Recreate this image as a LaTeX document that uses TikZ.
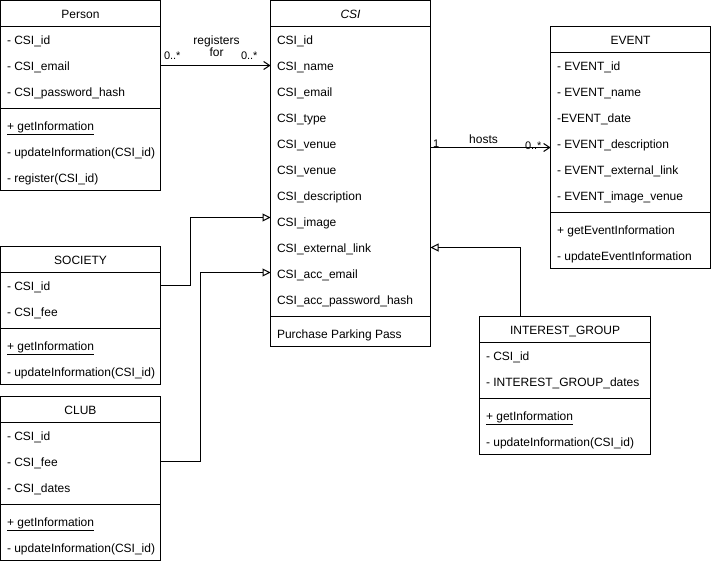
\documentclass[tikz,border=0pt]{standalone}
\usepackage{fontspec}
\setmainfont{Liberation Sans}
\usetikzlibrary{arrows.meta}

\begin{document}
\begin{tikzpicture}[x=1pt, y=-1pt, line width=1pt,
  classbox/.style={draw, anchor=north west, inner sep=0pt, outer sep=0pt},
  title/.style={font=\fontsize{12}{14}\selectfont, inner sep=0pt, text height=12pt, text depth=2pt, anchor=center},
  member/.style={font=\fontsize{12}{14}\selectfont, inner sep=0pt, text height=12pt, text depth=2pt, anchor=west},
  rellabel/.style={font=\fontsize{12}{14}\selectfont, inner sep=0pt, anchor=base},
  mult/.style={font=\fontsize{11}{13}\selectfont, inner sep=0pt, anchor=base west},
  assoc/.style={-{Straight Barb[length=6pt,width=8pt]}},
  inherit/.style={-{Triangle[open,length=8pt,width=8pt]}}
]
\useasboundingbox (0,0) rectangle (711,564);

\begin{scope}[shift={(0.5,0.5)}]

% ---------- Person ----------
\node[classbox, minimum width=160pt, minimum height=190pt] (person) at (0,0) {};
\node[title] (person-t) at (80,13) {Person};
\draw (0,26) -- (160,26);
\node[member] (p-id)    at (6,39) {- CSI\_id};
\node[member] (p-email) at (6,65) {- CSI\_email};
\node[member] (p-pw)    at (6,91) {- CSI\_password\_hash};
\draw (0,108) -- (160,108);
\node[member] (p-get)   at (6,125) {\underline{+ getInformation}};
\node[member] (p-upd)   at (6,151) {- updateInformation(CSI\_id)};
\node[member] (p-reg)   at (6,177) {- register(CSI\_id)};

% ---------- CSI (abstract) ----------
\node[classbox, minimum width=160pt, minimum height=346pt] (csi) at (270,0) {};
\node[title] (csi-t) at (350,13) {\itshape CSI};
\draw (270,26) -- (430,26);
\node[member] (csi-id)     at (276,39)  {CSI\_id};
\node[member] (csi-name)   at (276,65)  {CSI\_name};
\node[member] (csi-email)  at (276,91)  {CSI\_email};
\node[member] (csi-type)   at (276,117) {CSI\_type};
\node[member] (csi-venue1) at (276,143) {CSI\_venue};
\node[member] (csi-venue2) at (276,169) {CSI\_venue};
\node[member] (csi-desc)   at (276,195) {CSI\_description};
\node[member] (csi-image)  at (276,221) {CSI\_image};
\node[member] (csi-link)   at (276,247) {CSI\_external\_link};
\node[member] (csi-accm)   at (276,273) {CSI\_acc\_email};
\node[member] (csi-accpw)  at (276,299) {CSI\_acc\_password\_hash};
\draw (270,316) -- (430,316);
\node[member] (csi-park)   at (276,333) {Purchase Parking Pass};

% ---------- EVENT ----------
\node[classbox, minimum width=160pt, minimum height=242pt] (event) at (550,26) {};
\node[title] (event-t) at (630,39) {EVENT};
\draw (550,52) -- (710,52);
\node[member] (ev-id)    at (556,65)  {- EVENT\_id};
\node[member] (ev-name)  at (556,91)  {- EVENT\_name};
\node[member] (ev-date)  at (556,117) {-EVENT\_date};
\node[member] (ev-desc)  at (556,143) {- EVENT\_description};
\node[member] (ev-link)  at (556,169) {- EVENT\_external\_link};
\node[member] (ev-img)   at (556,195) {- EVENT\_image\_venue};
\draw (550,212) -- (710,212);
\node[member] (ev-get)   at (556,229) {+ getEventInformation};
\node[member] (ev-upd)   at (556,255) {- updateEventInformation};

% ---------- SOCIETY ----------
\node[classbox, minimum width=160pt, minimum height=138pt] (society) at (0,246) {};
\node[title] (society-t) at (80,259) {SOCIETY};
\draw (0,272) -- (160,272);
\node[member] (s-id)  at (6,285) {- CSI\_id};
\node[member] (s-fee) at (6,311) {- CSI\_fee};
\draw (0,328) -- (160,328);
\node[member] (s-get) at (6,345) {\underline{+ getInformation}};
\node[member] (s-upd) at (6,371) {- updateInformation(CSI\_id)};

% ---------- CLUB ----------
\node[classbox, minimum width=160pt, minimum height=164pt] (club) at (0,396) {};
\node[title] (club-t) at (80,409) {CLUB};
\draw (0,422) -- (160,422);
\node[member] (c-id)    at (6,435) {- CSI\_id};
\node[member] (c-fee)   at (6,461) {- CSI\_fee};
\node[member] (c-dates) at (6,487) {- CSI\_dates};
\draw (0,504) -- (160,504);
\node[member] (c-get)   at (6,521) {\underline{+ getInformation}};
\node[member] (c-upd)   at (6,547) {- updateInformation(CSI\_id)};

% ---------- INTEREST_GROUP ----------
\node[classbox, minimum width=171pt, minimum height=138pt] (ig) at (479,316) {};
\node[title] (ig-t) at (564.5,329) {INTEREST\_GROUP};
\draw (479,342) -- (650,342);
\node[member] (ig-id)    at (485,355) {- CSI\_id};
\node[member] (ig-dates) at (485,381) {- INTEREST\_GROUP\_dates};
\draw (479,398) -- (650,398);
\node[member] (ig-get)   at (485,415) {\underline{+ getInformation}};
\node[member] (ig-upd)   at (485,441) {- updateInformation(CSI\_id)};

% ---------- Person registers for CSI ----------
\draw[assoc] (person.east |- p-email) -- (csi.west |- csi-name);
\node[mult] (reg-src) at (163,59) {0..*};
\node[rellabel] (reg-l1) at (216,44) {registers};
\node[rellabel] (reg-l2) at (216,56.5) {for};
\node[mult] (reg-dst) at (240,59) {0..*};

% ---------- CSI hosts EVENT ----------
\path (csi.east |- csi-venue1) ++(0,4) coordinate (hosts-s);
\draw[assoc] (hosts-s) -- (hosts-s -| event.west);
\node[mult] (host-src) at (432,147.5) {1};
\node[rellabel] (host-l) at (483,143.3) {hosts};
\node[mult] (host-dst) at (524,149) {0..*};

% ---------- generalisations ----------
\path (csi.west |- csi-image) ++(0,-4) coordinate (soc-t);
\draw[inherit] (society.east |- s-id) -- ++(30,0) |- (soc-t);

\path (csi.west |- csi-accm) ++(0,-1) coordinate (club-t2);
\draw[inherit] (club.east |- c-fee) -- ++(40,0) |- (club-t2);

\path (ig.north west) ++(41,0) coordinate (ig-s);
\draw[inherit] (ig-s) |- (csi.east |- csi-link);

\end{scope}
\end{tikzpicture}
\end{document}
